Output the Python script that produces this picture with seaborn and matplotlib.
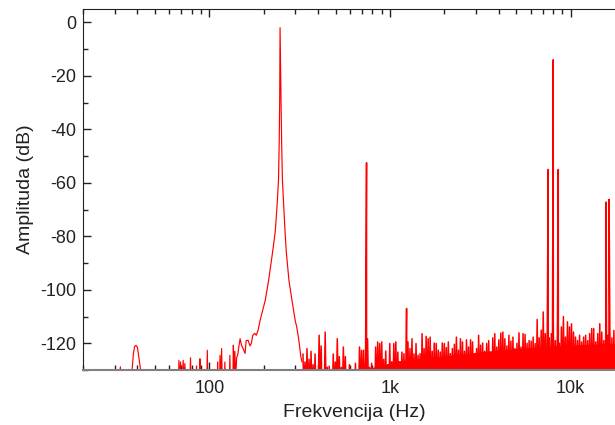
import numpy as np
import pandas as pd
import seaborn as sns
import matplotlib.pyplot as plt
from matplotlib.ticker import FixedLocator, LogLocator, NullFormatter

sns.set_style("ticks")
plt.rcParams["font.family"] = ["Liberation Sans", "DejaVu Sans"]

# niske frekvencije (Hz, dB)
low_f = [20, 20.4, 31.6, 32.2, 32.8, 37.3, 38.0, 38.6, 39.3, 40.0, 40.7, 41.9,
         67.4, 67.9, 68.6, 69.3, 70.5, 71.7, 72.4, 73.2, 74.5, 78.0, 78.7, 79.5,
         84.5, 85.0, 85.6, 88.2, 88.8, 89.5, 96.8, 97.5, 98.3, 110.5, 111.2, 112,
         114, 114.6, 115.8, 117, 118.2, 121, 122, 123, 129, 130, 131, 135, 135.9,
         137, 138.5, 140, 141.8, 143.6, 146, 148.1, 150.7, 154, 157.7, 160, 164,
         168, 171, 174, 178.6, 182, 186.5, 191]
low_db = [-129.3, -136, -136, -128.8, -136, -131, -124, -121.2, -120.8, -121.5, -125, -131,
          -136, -126.4, -136, -127, -136, -126.4, -136, -127.6, -136, -136, -125.4, -136,
          -136, -128.5, -136, -136, -125.8, -136, -136, -122.6, -136, -136, -127, -136,
          -136, -124.5, -136, -122, -136, -136, -127, -136, -136, -124.5, -136, -136, -120.7,
          -131, -123, -133, -125.2, -124.5, -121, -118.3, -120.7, -122, -123.8, -119, -118.9,
          -121, -120, -117, -116.3, -117, -115, -111.5]

# osnovni ton ~246 Hz
peak_f = [204, 213, 224, 232, 237.5, 241.6, 243.8, 245.3, 246.5, 249.5, 251.5, 254,
          258, 262.5, 267, 276, 287, 299, 305, 311, 316, 321, 326]
peak_db = [-104, -96.5, -86, -78, -68, -59, -45, -29, -2, -29, -45, -59,
           -68, -78, -86, -96.5, -104, -111.5, -114, -117.5, -121, -125, -127]

# šum od 330 Hz do 20 kHz (vrhovi)
noise_f_lo, noise_f_hi = 330, 20000
noise_floor = -140
noise_db = [-124, -127, -122, -126, -123, -128, -124, -131, -117, -121,
            -133, -115.8, -129, -128.6, -132, -124, -127, -118.3, -125, -129,
            -121.4, -125, -131, -128, -133, -130, -127.5, -132, -121.4, -122.6,
            -122.6, -126, -118.3, -129, -127.5, -130, -121.4, -119.5,
            -120.1, -119.5, -126, -122.9, -128, -120.1, -126.9, -120.1, -119.5, -123.3,
            -127, -123.3, -123.9, -126, -119.5, -122, -118.3, -124, -120.1, -124.5,
            -123.9, -116.4, -122, -117.4, -118.3, -117.7, -123, -119.9, -120.1, -122.6,
            -123.3, -119.9, -120.1, -121.6, -119.5, -123.9, -122, -120.4, -117.7, -122.6,
            -118.3, -119.5, -123, -118.7, -121.4, -118.7, -119.5, -124, -122, -117,
            -120.7, -119.9, -123, -120.1, -119, -123.3, -118, -116.4, -121.4, -118.7,
            -116.2, -115.8, -118.3, -121, -117, -119.2, -117.7, -122, -120, -116.1,
            -121.4, -116.4, -116.7, -120, -119, -119.2, -117.7, -120.1, -111.1, -118,
            -115.1, -108.3, -116.4, -114.5, -118, -116.4, -113.3, -119, -117.7, -120,
            -113.9, -110, -117.7, -112, -113.9, -112.7, -115.8, -117.7, -119, -117,
            -119.5, -117.7, -117, -119, -116.4, -114.5, -114.5, -119.5, -116.4, -112.7,
            -115.8, -119, -113.9, -117, -115.2, -118, -115.2, -116.4, -117, -115.5,
            -118, -116]

# gusti dio šuma (gornji rub pune površine)
band_f = [330, 345, 365, 600, 925, 1122, 2117, 4034, 7647, 17490, 19950]
band_db = [-127.5, -129, -131, -131, -128, -126.5, -124.5, -122.5, -121, -120, -120]

# harmonici i ostali tonovi
tone_f = [742, 1236, 7517, 8013, 8545, 15700, 16330]
tone_db = [-52.5, -107, -55, -14, -55, -67.2, -66.2]

noise_f = np.geomspace(noise_f_lo, noise_f_hi, 2 * len(noise_db))
noise_y = np.full(2 * len(noise_db), float(noise_floor))
noise_y[0::2] = noise_db

df_low = pd.DataFrame({"f": low_f + peak_f, "db": low_db + peak_db})
df_noise = pd.DataFrame({
    "f": np.concatenate([noise_f, tone_f]),
    "db": np.concatenate([noise_y, tone_db]),
}).sort_values("f")

fig = plt.figure(figsize=(6.15, 4.25), dpi=100)
ax = fig.add_axes([83 / 615, 55 / 425, 542 / 615, 361 / 425])
ax.fill_between(band_f, noise_floor, band_db, color="#ff0000", lw=0)
sns.lineplot(data=df_low, x="f", y="db", color="#ff0000", linewidth=0.85,
             estimator=None, sort=False, ax=ax)
sns.lineplot(data=df_noise, x="f", y="db", color="#ff0000", linewidth=1.1,
             estimator=None, sort=False, ax=ax)

ax.set_xscale("log")
ax.set_xlim(20, 20000)
ax.set_ylim(-130, 5)
ax.xaxis.set_major_locator(FixedLocator([100, 1000, 10000]))
ax.set_xticklabels(["100", "1k", "10k"])
ax.xaxis.set_minor_locator(LogLocator(base=10, subs=np.arange(2, 10)))
ax.xaxis.set_minor_formatter(NullFormatter())
ax.set_yticks(range(-120, 1, 20))
ax.set_yticklabels(["-120", "-100", "-80", "-60", "-40", "-20", "0"])
ax.set_yticks(range(-130, 5, 10), minor=True)

ax.tick_params(which="both", direction="in", top=True, right=True,
               color="#222222", width=1, labelsize=13, labelcolor="#222222")
ax.tick_params(which="major", length=6)
ax.tick_params(which="minor", length=3.5)
ax.tick_params(axis="x", pad=7)
ax.tick_params(axis="y", pad=5)
for s in ["left", "top", "right"]:
    ax.spines[s].set_color("#222222")
ax.spines["bottom"].set_color("#808080")
ax.spines["bottom"].set_linewidth(1.5)

ax.set_xlabel("Frekvencija (Hz)", fontsize=14, color="#222222", labelpad=5)
ax.set_ylabel("Amplituda (dB)", fontsize=14, color="#222222", labelpad=4)

fig.savefig("out.png", dpi=100)
